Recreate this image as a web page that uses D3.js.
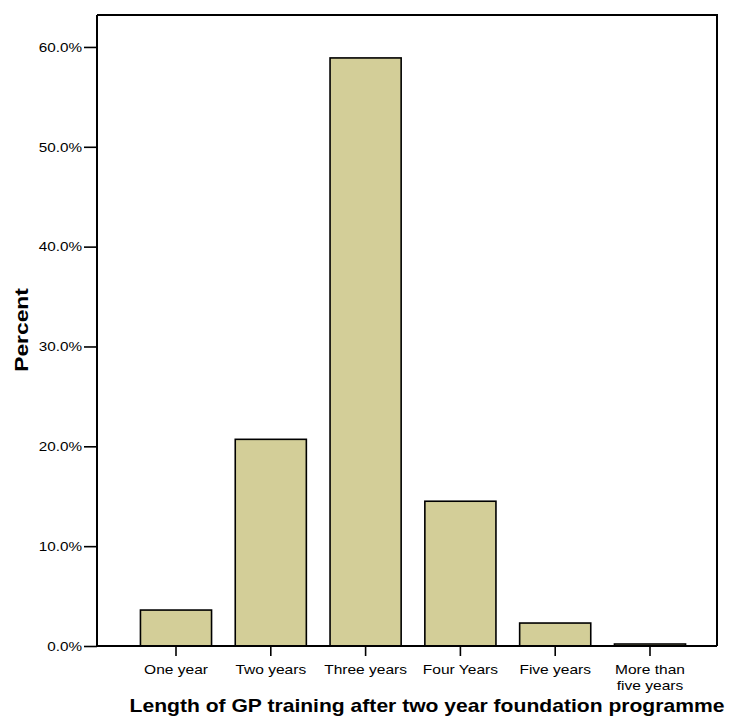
<!DOCTYPE html>
<html>
<head>
<meta charset="utf-8">
<script src="https://cdn.jsdelivr.net/npm/d3@7"></script>
<style>
  html, body { margin: 0; padding: 0; background: #fff; }
  svg { display: block; font-family: "Liberation Sans", Arial, sans-serif; }
</style>
</head>
<body>
<svg id="chart" width="743" height="718"></svg>
<script>
const categories = ["One year", "Two years", "Three years", "Four Years", "Five years", "More than five years"];
const categoryLines = [["One year"], ["Two years"], ["Three years"], ["Four Years"], ["Five years"], ["More than", "five years"]];
const percents = [3.6, 20.7, 58.9, 14.5, 2.3, 0.2];
const yTicks = [0, 10, 20, 30, 40, 50, 60];

const FONT = "'Liberation Sans', Arial, sans-serif";
const svg = d3.select("#chart");
const frame = { left: 97, right: 717, top: 15, bottom: 646 };

function stretch(sel, k) {
  sel.each(function() {
    const w = this.getComputedTextLength();
    d3.select(this).attr("textLength", w * k).attr("lengthAdjust", "spacingAndGlyphs");
  });
}

const x = d3.scaleBand().domain(categories).range([128.6, 697.4]).paddingInner(0.25).paddingOuter(0.125);
const y = d3.scaleLinear().domain([0, 63.2]).range([frame.bottom, frame.top]);

// bars
svg.append("g").selectAll("rect").data(percents).join("rect")
  .attr("x", (d, i) => x(categories[i]))
  .attr("y", d => y(d))
  .attr("width", x.bandwidth())
  .attr("height", d => y(0) - y(d))
  .attr("fill", "#d3ce98")
  .attr("stroke", "#000")
  .attr("stroke-width", 1.6);

// frame (top & right)
svg.append("path")
  .attr("d", `M${frame.left},${frame.top}H${frame.right}V${frame.bottom}`)
  .attr("fill", "none").attr("stroke", "#000").attr("stroke-width", 2);

// y axis
const yAxis = d3.axisLeft(y).tickValues(yTicks).tickSize(13).tickSizeOuter(0)
  .tickFormat(d => d.toFixed(1) + "%");
const gy = svg.append("g").attr("transform", `translate(${frame.left},0)`).call(yAxis);
gy.select(".domain").attr("stroke-width", 2).attr("d", `M0,${frame.top}V${frame.bottom}`);
gy.selectAll(".tick line").attr("stroke-width", 1.6);
gy.selectAll(".tick text").attr("font-size", 13.5).attr("fill", "#000")
  .attr("font-family", FONT).attr("x", -15).call(stretch, 1.13);

// x axis
const xAxis = d3.axisBottom(x).tickSize(10).tickSizeOuter(0).tickFormat("");
const gx = svg.append("g").attr("transform", `translate(0,${frame.bottom})`).call(xAxis);
gx.select(".domain").attr("stroke-width", 2).attr("d", `M${frame.left},0H${frame.right}`);
gx.selectAll(".tick line").attr("stroke-width", 1.6);
gx.selectAll(".tick").each(function(d, i) {
  const g = d3.select(this);
  categoryLines[i].forEach((line, j) => {
    g.append("text")
      .attr("fill", "#000").attr("font-size", 13.5).attr("text-anchor", "middle")
      .attr("font-family", FONT)
      .attr("x", 0).attr("y", 28 + j * 15.5).text(line)
      .call(stretch, 1.15);
  });
});

// axis titles
svg.append("text")
  .attr("x", 427).attr("y", 712)
  .attr("text-anchor", "middle").attr("font-weight", "bold").attr("font-size", 19)
  .attr("font-family", FONT)
  .text("Length of GP training after two year foundation programme")
  .call(stretch, 1.11);

svg.append("text")
  .attr("transform", `translate(28,330) rotate(-90)`)
  .attr("text-anchor", "middle").attr("font-weight", "bold").attr("font-size", 19)
  .attr("font-family", FONT)
  .text("Percent")
  .call(stretch, 1.2);
</script>
</body>
</html>
